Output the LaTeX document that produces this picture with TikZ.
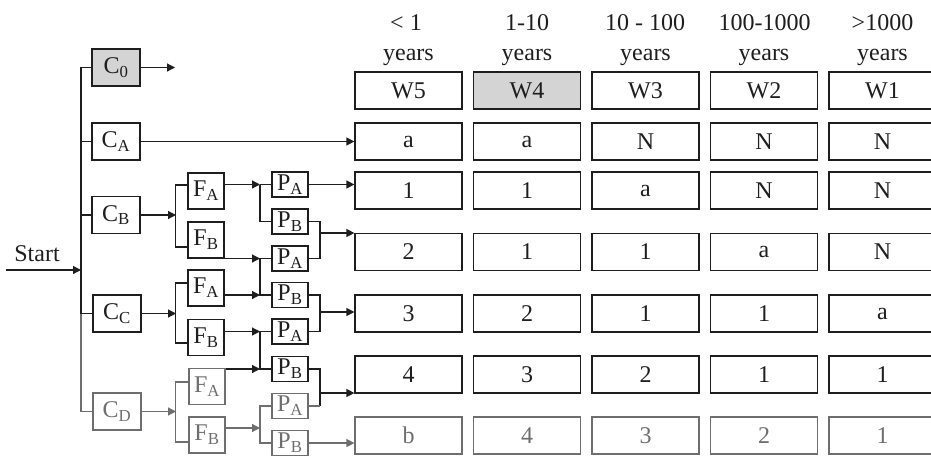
\documentclass[tikz,border=0pt]{standalone}
\usepackage{fontspec}
\setmainfont{Liberation Serif}
\usetikzlibrary{arrows.meta}
\definecolor{ink}{HTML}{1E1E1E}
\definecolor{pale}{HTML}{6E6E6E}
\definecolor{shade}{HTML}{D4D4D4}
\tikzset{
  ln/.style={draw=ink, line width=1.2pt},
  gln/.style={ln, draw=pale},
  arr/.style={ln, -{Triangle[length=8pt,width=8pt]}},
  garr/.style={arr, draw=pale},
  cbox/.style={draw=ink, line width=1.2pt, minimum width=48pt, minimum height=37pt, inner sep=0pt, text=ink},
  fbox/.style={cbox, minimum width=36pt, minimum height=36pt},
  pbox/.style={cbox, minimum width=36pt, minimum height=25pt},
  wbox/.style={cbox, minimum width=107pt, minimum height=37pt},
  grey/.style={draw=pale, text=pale},
  lbl/.style={text=ink, inner sep=0pt, anchor=base},
}
\begin{document}
\begin{tikzpicture}[x=1pt, y=-1pt, font=\fontsize{24}{28}\selectfont]
\useasboundingbox (0,0) rectangle (931,455);

% ---- header
\node[lbl] (h5) at (406,30) {< 1};
\node[lbl] (h4) at (527,30) {1-10};
\node[lbl] (h3) at (645,30) {10 - 100};
\node[lbl] (h2) at (764.5,30) {100-1000};
\node[lbl] (h1) at (882.5,30) {>1000};
\node[lbl] (y5) at (408.5,60) {years};
\node[lbl] (y4) at (527,60) {years};
\node[lbl] (y3) at (645.5,60) {years};
\node[lbl] (y2) at (764,60) {years};
\node[lbl] (y1) at (882.5,60) {years};

\node[wbox] (w5) at (408.5,90.5) {W5};
\node[wbox, fill=shade] (w4) at (527,90.5) {W4};
\node[wbox] (w3) at (645.5,90.5) {W3};
\node[wbox] (w2) at (764,90.5) {W2};
\node[wbox] (w1) at (882.5,90.5) {W1};

% ---- result rows
\foreach \r/\yy/\vals in {a/141.5/{a,a,N,N,N}, 1/190.5/{1,1,a,N,N}, 2/252/{2,1,1,a,N}, 3/313.5/{3,2,1,1,a}, 4/374.5/{4,3,2,1,1}}{
  \foreach \v [count=\c] in \vals {
    \node[wbox] (r\r c\c) at ({408.5+118.5*(\c-1)},\yy) {\v};
  }
}
\foreach \v [count=\c] in {b,4,3,2,1} {
  \node[wbox, grey] (rbc\c) at ({408.5+118.5*(\c-1)},435.5) {\v};
}

% ---- start and main bus
\coordinate (bt) at (81,66);
\coordinate (fbx) at (176,0);
\coordinate (pbx) at (260,0);
\coordinate (mx) at (320,0);
\node[lbl] (start) at (37,261) {Start};
\coordinate (s0) at (6,270);
\draw[arr] (s0) -- (s0 -| bt);

% ---- C boxes
\node[cbox, fill=shade] (c0) at (116,67.5) {C\textsubscript{0}};
\node[cbox] (ca) at (116,141.5) {C\textsubscript{A}};
\node[cbox] (cb) at (116,215) {C\textsubscript{B}};
\node[cbox] (cc) at (117,313.5) {C\textsubscript{C}};
\node[cbox, grey] (cd) at (117,411.5) {C\textsubscript{D}};

\draw[ln] (c0.west) -- (c0.west -| bt) -- (cc.west -| bt) -- (cc.west);
\draw[ln] (ca.west) -- (ca.west -| bt);
\draw[ln] (cb.west) -- (cb.west -| bt);
\draw[gln] (cc.west -| bt) -- (cd.west -| bt) -- (cd.west);

\coordinate (c0e) at (175,67.5);
\draw[arr] (c0.east) -- (c0e);
\draw[arr] (ca.east) -- (rac1.west);

% ---- F boxes
\node[fbox] (fa1) at (206,191) {F\textsubscript{A}};
\node[fbox] (fb1) at (206,240) {F\textsubscript{B}};
\node[fbox] (fa2) at (206,288) {F\textsubscript{A}};
\node[fbox] (fb2) at (206,337.5) {F\textsubscript{B}};
\node[fbox, grey] (fa3) at (207,386.5) {F\textsubscript{A}};
\node[fbox, grey] (fb3) at (207,435) {F\textsubscript{B}};

\draw[arr] (cb.east) -- (cb.east -| fbx);
\draw[arr] (cc.east) -- (cc.east -| fbx);
\draw[garr] (cd.east) -- (cd.east -| fbx);

\draw[ln] ([yshift=6pt]fa1.west) -- ++(-12,0) |- ([yshift=-7pt]fb1.west);
\draw[ln] ([yshift=5pt]fa2.west) -- ++(-12,0) |- ([yshift=-5.5pt]fb2.west);
\draw[gln] ([yshift=4.5pt]fa3.west) -- ++(-13,0) |- ([yshift=-7pt]fb3.west);

% ---- P boxes
\node[pbox] (pa1) at (290,184.5) {P\textsubscript{A}};
\node[pbox] (pb1) at (290,221.5) {P\textsubscript{B}};
\node[pbox] (pa2) at (290,258.5) {P\textsubscript{A}};
\node[pbox] (pb2) at (290,295) {P\textsubscript{B}};
\node[pbox] (pa3) at (290,331.5) {P\textsubscript{A}};
\node[pbox] (pb3) at (290,369) {P\textsubscript{B}};
\node[pbox, grey] (pa4) at (290,406) {P\textsubscript{A}};
\node[pbox, grey] (pb4) at (290,443) {P\textsubscript{B}};

% F -> P
\draw[arr] (fa1.east |- pa1.west) -- (pa1.west -| pbx);
\draw[ln] (pa1.west -| pbx) -- (pa1.west);
\draw[ln] (pa1.west -| pbx) |- (pb1.west);

\draw[arr] (fb1.east |- pa2.west) -- (pa2.west -| pbx);
\draw[arr] (fa2.east |- pb2.west) -- (pb2.west -| pbx);
\draw[ln] (pa2.west) -| (pbx |- pb2.west) -- (pb2.west);

\draw[arr] (fb2.east |- pa3.west) -- (pa3.west -| pbx);
\draw[arr] (fa3.east |- pb3.west) -- (pb3.west -| pbx);
\draw[ln] (pa3.west) -| (pbx |- pb3.west) -- (pb3.west);

\coordinate (fb3o) at ([yshift=7pt]fb3.east);
\draw[garr] (fb3o) -- (fb3o -| pbx);
\draw[gln] (pa4.west) -| (pbx |- pb4.west) -- (pb4.west);

% P -> rows
\draw[arr] (pa1.east) -- (pa1.east -| r1c1.west);

\draw[ln] (pb1.east) -| (mx |- pa2.east) -- (pa2.east);
\coordinate (m2) at (320,233);
\draw[arr] (m2) -- (m2 -| r2c1.west);

\draw[ln] (pb2.east) -| (mx |- pa3.east) -- (pa3.east);
\coordinate (m3) at (320,312);
\draw[arr] (m3) -- (m3 -| r3c1.west);

\draw[ln] (pb3.east) -| (mx |- pa4.east);
\draw[gln] (mx |- pa4.east) -- (pa4.east);
\coordinate (m4) at (320,393);
\draw[arr] (m4) -- (m4 -| r4c1.west);

\draw[garr] (pb4.east) -- (pb4.east -| rbc1.west);
\end{tikzpicture}
\end{document}
